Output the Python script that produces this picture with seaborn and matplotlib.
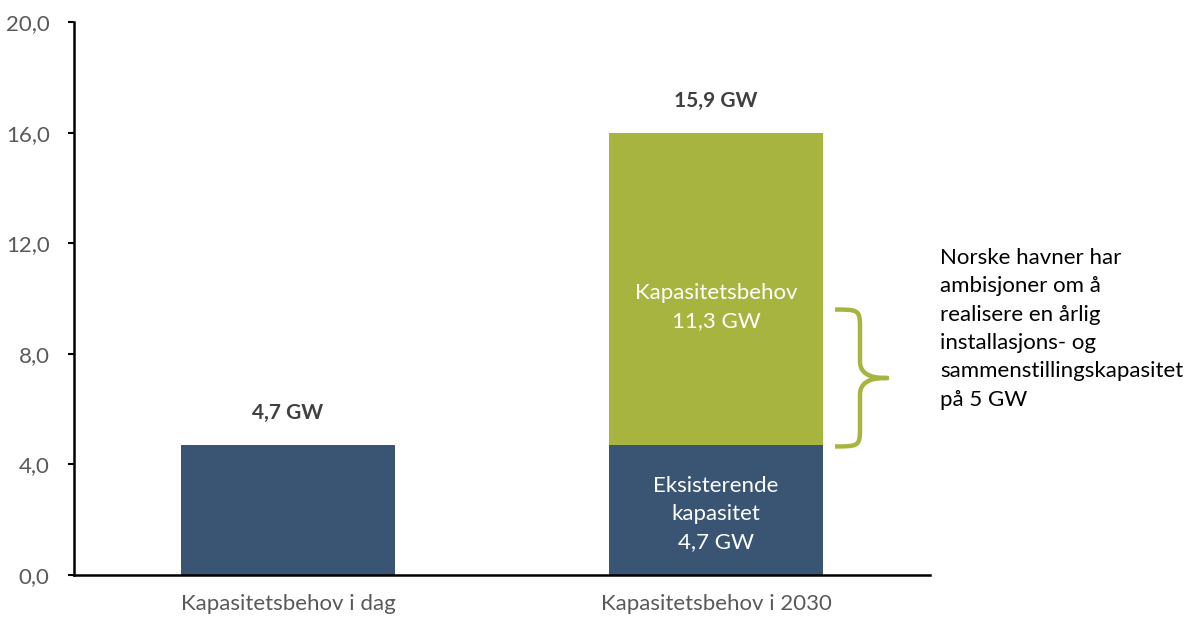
import matplotlib
matplotlib.use("Agg")
import matplotlib.pyplot as plt
from matplotlib.path import Path
from matplotlib.patches import PathPatch
import matplotlib.transforms as mtransforms
import numpy as np
import pandas as pd
import seaborn as sns

# Data
categories = ["Kapasitetsbehov i dag", "Kapasitetsbehov i 2030"]
existing = [4.7, 4.7]
additional = [0.0, 11.3]
total_labels = ["4,7 GW", "15,9 GW"]
inner_existing_label = "Eksisterende\nkapasitet\n4,7 GW"
inner_additional_label = "Kapasitetsbehov\n11,3 GW"
yticks = [0, 4, 8, 12, 16, 20]
note = ("Norske havner har\nambisjoner om å\nrealisere en årlig\n"
        "installasjons- og\nsammenstillingskapasitet\npå 5 GW")

BLUE = "#3A5573"
GREEN = "#A7B440"
TICK_GREY = "#595959"
LABEL_DARK = "#404040"

sns.set_theme(style="white")
plt.rcParams["font.family"] = ["Lato", "DejaVu Sans"]

df = pd.DataFrame({
    "category": categories,
    "existing": existing,
    "total": np.array(existing) + np.array(additional),
})

fig = plt.figure(figsize=(11.93, 6.17), dpi=100)
ax = fig.add_axes([74 / 1193, 1 - 575 / 617, (930 - 74) / 1193, (575 - 22) / 617])

sns.barplot(data=df, x="category", y="total", color=GREEN, width=0.5,
            saturation=1, ax=ax, order=categories, linewidth=0)
sns.barplot(data=df, x="category", y="existing", color=BLUE, width=0.5,
            saturation=1, ax=ax, order=categories, linewidth=0)

ax.set_xlim(-0.5, 1.5)
ax.set_ylim(0, 20)
ax.set_yticks(yticks)
ax.set_yticklabels([f"{v:.1f}".replace(".", ",") for v in yticks],
                   fontsize=16, color=TICK_GREY)
ax.set_xticks(range(len(categories)))
ax.set_xticklabels(categories, fontsize=16, color=TICK_GREY)
ax.set_xlabel("")
ax.set_ylabel("")
ax.tick_params(axis="y", which="major", direction="out", length=4.5, width=1.5,
               color="black", pad=13, left=True)
ax.tick_params(axis="x", length=0, pad=14)
for side in ["top", "right"]:
    ax.spines[side].set_visible(False)
for side in ["left", "bottom"]:
    ax.spines[side].set_color("black")
    ax.spines[side].set_linewidth(1.8)

# Totals above bars
for i, lab in enumerate(total_labels):
    tot = df["total"].iloc[i]
    ax.text(i, tot + 0.8, lab, ha="center", va="bottom", fontsize=15,
            fontweight="bold", color=LABEL_DARK)

# Labels inside the stacked 2030 bar
ax.text(1, existing[1] / 2 - 0.15, inner_existing_label, ha="center", va="center",
        fontsize=16, color="white", linespacing=1.5)
ax.text(1, 9.7, inner_additional_label, ha="center", va="center",
        fontsize=16, color="white", linespacing=1.5)

# Curly brace spanning the additional capacity
trans = mtransforms.blended_transform_factory(ax.transAxes, ax.transData)
x0 = (835 - 74) / 856
xs = (860 - 74) / 856
xt = (887 - 74) / 856
y_top, y_bot = 9.6, 4.65
y_mid = (y_top + y_bot) / 2
r = 0.6
dx = (xs - x0)
verts = [
    (x0, y_top), (x0 + dx * 0.9, y_top), (xs, y_top), (xs, y_top - r),
    (xs, y_mid + r), (xs, y_mid), (xt - 0.3 * (xt - xs), y_mid), (xt, y_mid),
    (xt - 0.3 * (xt - xs), y_mid), (xs, y_mid), (xs, y_mid - r),
    (xs, y_bot + r), (xs, y_bot), (x0 + dx * 0.9, y_bot), (x0, y_bot),
]
codes = [Path.MOVETO, Path.CURVE4, Path.CURVE4, Path.CURVE4,
         Path.LINETO, Path.CURVE4, Path.CURVE4, Path.CURVE4,
         Path.CURVE4, Path.CURVE4, Path.CURVE4,
         Path.LINETO, Path.CURVE4, Path.CURVE4, Path.CURVE4]
brace = PathPatch(Path(verts, codes), transform=trans, fill=False,
                  edgecolor=GREEN, linewidth=3.2, clip_on=False,
                  capstyle="butt", joinstyle="round")
ax.add_patch(brace)

fig.text(940 / 1193, 1 - 248 / 617, note, ha="left", va="top", fontsize=16,
         color="black", linespacing=1.52)

fig.savefig("out.png", dpi=100)
